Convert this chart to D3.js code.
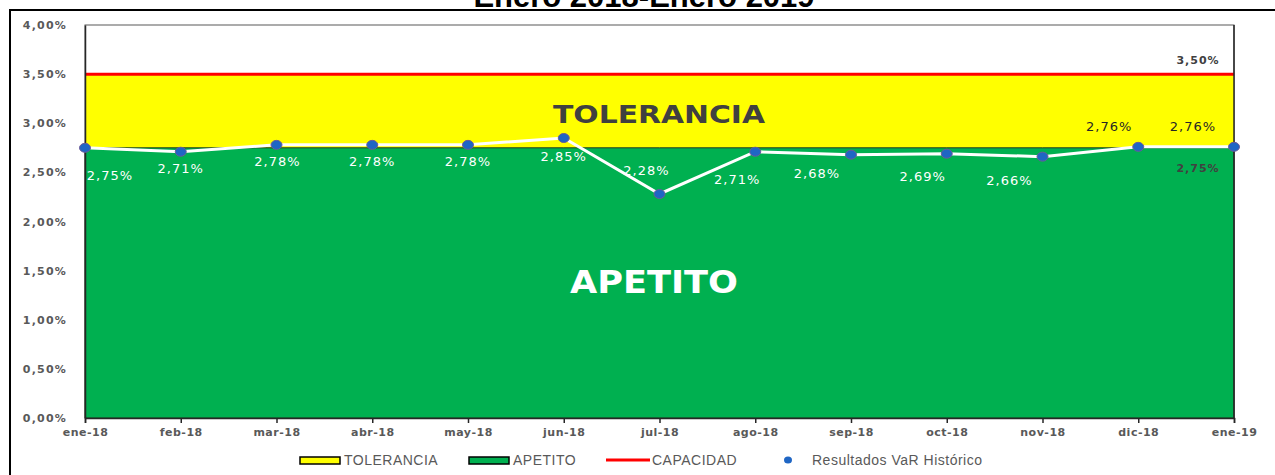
<!DOCTYPE html>
<html>
<head>
<meta charset="utf-8">
<script src="https://cdn.jsdelivr.net/npm/d3@7"></script>
<style>
  body { margin: 0; background: #fff; }
  svg { display: block; }
</style>
</head>
<body>
<svg id="chart"></svg>
<script>
// data
const months = ['ene-18', 'feb-18', 'mar-18', 'abr-18', 'may-18', 'jun-18', 'jul-18',
  'ago-18', 'sep-18', 'oct-18', 'nov-18', 'dic-18', 'ene-19'];
const varHist = [2.75, 2.71, 2.78, 2.78, 2.78, 2.85, 2.28, 2.71, 2.68, 2.69, 2.66, 2.76, 2.76];
const apetito = months.map(() => 2.75);
const tolerancia = months.map(() => 3.5);
const capacidad = months.map(() => 3.5);
const yTicks = [0, 0.5, 1, 1.5, 2, 2.5, 3, 3.5, 4];
const title = 'Enero 2018-Enero 2019';

const width = 1275;
const height = 475;
const svg = d3.select('#chart').attr('width', width).attr('height', height);

const fmt = (v) => d3.format('.2f')(v).replace('.', ',') + '%';

const x = d3.scalePoint().domain(months).range([85, 1234]);
const y = d3.scaleLinear().domain([0, 4]).range([418, 25]);

// outer frame + cut-off title
svg.append('text')
  .attr('x', 644).attr('y', 7)
  .attr('text-anchor', 'middle')
  .style('font', 'bold 31px "Liberation Sans", Arial, sans-serif')
  .style('fill', '#000')
  .text(title);
svg.append('path')
  .attr('d', 'M10,475 V10 H1275')
  .attr('fill', 'none')
  .attr('stroke', '#000')
  .attr('stroke-width', 2);

// plot background
svg.append('rect')
  .attr('x', 85).attr('y', 25)
  .attr('width', 1234 - 85).attr('height', 418 - 25)
  .attr('fill', '#fff')
  .attr('stroke', '#595959');

// tolerancia band (yellow) and apetito band (green)
const area = (vals) => d3.area()
  .x((d, i) => x(months[i]))
  .y0(y(0))
  .y1((d) => y(d))(vals);

svg.append('path')
  .attr('d', area(tolerancia))
  .attr('fill', '#ffff00');
svg.append('path')
  .attr('d', area(apetito))
  .attr('fill', '#00b050')
  .attr('stroke', '#1f3a1f')
  .attr('stroke-width', 1);

// capacidad line
svg.append('path')
  .attr('d', d3.line().x((d, i) => x(months[i])).y((d) => y(d))(capacidad))
  .attr('fill', 'none')
  .attr('stroke', '#ff0000')
  .attr('stroke-width', 3);

// axes
const yAxis = svg.append('g')
  .attr('transform', 'translate(85,0)')
  .call(d3.axisLeft(y).tickValues(yTicks).tickSize(0).tickPadding(18).tickFormat(fmt));
yAxis.select('.domain').attr('stroke', '#262626').attr('stroke-width', 1.5);
yAxis.selectAll('text')
  .style('font', 'bold 11px "DejaVu Sans", Verdana, sans-serif')
  .style('letter-spacing', '1.2px')
  .style('fill', '#595959');

const xAxis = svg.append('g')
  .attr('transform', `translate(0,${y(0)})`)
  .call(d3.axisBottom(x).tickSizeOuter(0).tickSize(5).tickPadding(5));
xAxis.select('.domain').attr('stroke', '#262626').attr('stroke-width', 1.5);
xAxis.selectAll('line').attr('stroke', '#262626').attr('stroke-width', 1.5);
xAxis.selectAll('text')
  .style('font', 'bold 11px "DejaVu Sans", Verdana, sans-serif')
  .style('letter-spacing', '0.5px')
  .style('fill', '#595959');

svg.append('line')
  .attr('x1', 1234).attr('x2', 1234)
  .attr('y1', 25).attr('y2', 418)
  .attr('stroke', '#262626').attr('stroke-width', 1.5);

// band titles
svg.append('text')
  .attr('x', 659).attr('y', 123)
  .attr('text-anchor', 'middle')
  .attr('textLength', 212)
  .attr('lengthAdjust', 'spacingAndGlyphs')
  .style('font', 'bold 25px "DejaVu Sans", Verdana, sans-serif')
  .style('fill', '#404040')
  .text('TOLERANCIA');
svg.append('text')
  .attr('x', 654).attr('y', 293)
  .attr('text-anchor', 'middle')
  .attr('textLength', 168)
  .attr('lengthAdjust', 'spacingAndGlyphs')
  .style('font', 'bold 32px "DejaVu Sans", Verdana, sans-serif')
  .style('fill', '#fff')
  .text('APETITO');

// VaR line + markers
svg.append('path')
  .attr('d', d3.line().x((d, i) => x(months[i])).y((d) => y(d))(varHist))
  .attr('fill', 'none')
  .attr('stroke', '#fff')
  .attr('stroke-width', 3);

svg.selectAll('.dot')
  .data(varHist)
  .enter()
  .append('ellipse')
  .attr('class', 'dot')
  .attr('cx', (d, i) => x(months[i]))
  .attr('cy', (d) => y(d))
  .attr('rx', 5.5).attr('ry', 4.5)
  .attr('fill', '#1f66c4')
  .attr('stroke', '#6a5a9a')
  .attr('stroke-width', 1);

// label offsets (dx, dy) relative to each point
const labelShift = [[25, 32], [0, 21], [1, 21], [0, 21], [0, 21], [0, 23],
  [-13, -19], [-18, 32], [-34, 23], [-24, 27], [-33, 28], [-29, -16], [-41, -16]];
svg.selectAll('.lbl')
  .data(varHist)
  .enter()
  .append('text')
  .attr('class', 'lbl')
  .attr('x', (d, i) => x(months[i]) + labelShift[i][0])
  .attr('y', (d, i) => y(d) + labelShift[i][1])
  .attr('text-anchor', 'middle')
  .style('font', '13px "DejaVu Sans", Verdana, sans-serif')
  .style('letter-spacing', '1px')
  .style('fill', (d, i) => (i >= 11 ? '#262626' : '#fff'))
  .text(fmt);

// apetito / capacidad labels at the last point
const last = months[months.length - 1];
svg.append('text')
  .attr('x', x(last) - 36).attr('y', y(apetito[apetito.length - 1]) + 24)
  .attr('text-anchor', 'middle')
  .style('font', 'bold 11px "DejaVu Sans", Verdana, sans-serif')
  .style('letter-spacing', '1px')
  .style('fill', '#404040')
  .text(fmt(apetito[apetito.length - 1]));
svg.append('text')
  .attr('x', x(last) - 36).attr('y', y(capacidad[capacidad.length - 1]) - 10)
  .attr('text-anchor', 'middle')
  .style('font', 'bold 11px "DejaVu Sans", Verdana, sans-serif')
  .style('letter-spacing', '1px')
  .style('fill', '#404040')
  .text(fmt(capacidad[capacidad.length - 1]));

// legend
const legend = svg.append('g')
  .style('font', '14px "Liberation Sans", Arial, sans-serif')
  .style('letter-spacing', '0.5px')
  .style('fill', '#595959');
const legItems = [
  { name: 'TOLERANCIA', kind: 'box', color: '#ffff00', x: 300 },
  { name: 'APETITO', kind: 'box', color: '#00b050', x: 469 },
  { name: 'CAPACIDAD', kind: 'line', color: '#ff0000', x: 606 },
  { name: 'Resultados VaR Histórico', kind: 'dot', color: '#1f66c4', x: 783 },
];
legItems.forEach((it) => {
  const g = legend.append('g').attr('transform', `translate(${it.x},460)`);
  if (it.kind === 'box') {
    g.append('rect').attr('x', 0).attr('y', -3).attr('width', 40).attr('height', 7)
      .attr('fill', it.color).attr('stroke', '#000').attr('stroke-width', 1.5);
    g.append('text').attr('x', 44).attr('y', 5).text(it.name);
  } else if (it.kind === 'line') {
    g.append('line').attr('x1', 0).attr('x2', 44).attr('y1', 0).attr('y2', 0)
      .attr('stroke', it.color).attr('stroke-width', 3);
    g.append('text').attr('x', 46).attr('y', 5).text(it.name);
  } else {
    g.append('ellipse').attr('cx', 5).attr('cy', 0).attr('rx', 4).attr('ry', 3.5)
      .attr('fill', it.color);
    g.append('text').attr('x', 29).attr('y', 5).text(it.name);
  }
});
</script>
</body>
</html>
